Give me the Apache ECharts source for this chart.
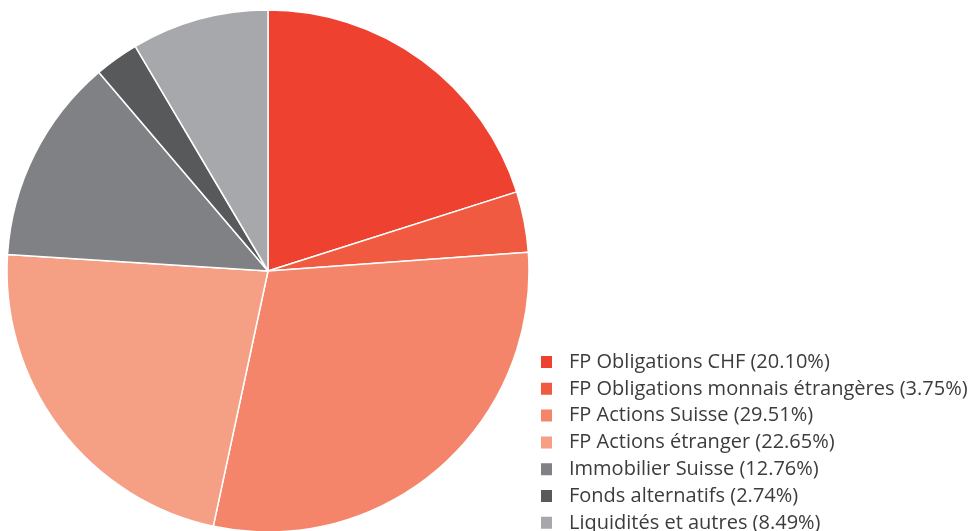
<!DOCTYPE html>
<html>
<head>
<meta charset="utf-8">
<script src="https://cdn.jsdelivr.net/npm/echarts@6/dist/echarts.min.js"></script>
<style>
  html, body { margin: 0; padding: 0; background: #fff; }
  #pieChart { width: 976px; height: 531px; }
</style>
</head>
<body>
<div id="pieChart"></div>
<script>
  var names = [
    'FP Obligations CHF',
    'FP Obligations monnais étrangères',
    'FP Actions Suisse',
    'FP Actions étranger',
    'Immobilier Suisse',
    'Fonds alternatifs',
    'Liquidités et autres'
  ];
  var values = [20.10, 3.75, 29.51, 22.65, 12.76, 2.74, 8.49];
  var colors = ['#EE4130', '#EF5A40', '#F4856A', '#F59F85', '#808184', '#58595B', '#A7A8AB'];

  var data = [];
  names.forEach(function (n, i) {
    data.push({ name: n, value: values[i] });
  });

  var myChart = echarts.init(document.getElementById('pieChart'));
  var option = {
    color: colors,
    animation: false,
    legend: {
      orient: 'vertical',
      left: 539,
      top: 352,
      height: 260,
      padding: 0,
      itemWidth: 13,
      itemHeight: 14,
      itemGap: 6.8,
      icon: 'rect',
      data: names,
      formatter: function (name) {
        var i = names.indexOf(name);
        return name + ' (' + values[i].toFixed(2) + '%)';
      },
      textStyle: {
        fontFamily: 'Open Sans',
        fontSize: 20,
        lineHeight: 20,
        color: '#3c3c3c',
        padding: [0, 0, 0, 11]
      }
    },
    series: [{
      type: 'pie',
      center: [268, 271],
      radius: 261,
      startAngle: 90,
      clockwise: true,
      silent: true,
      label: { show: false },
      labelLine: { show: false },
      itemStyle: {
        borderColor: '#ffffff',
        borderWidth: 1.5
      },
      data: data
    }]
  };
  myChart.setOption(option);
</script>
</body>
</html>
